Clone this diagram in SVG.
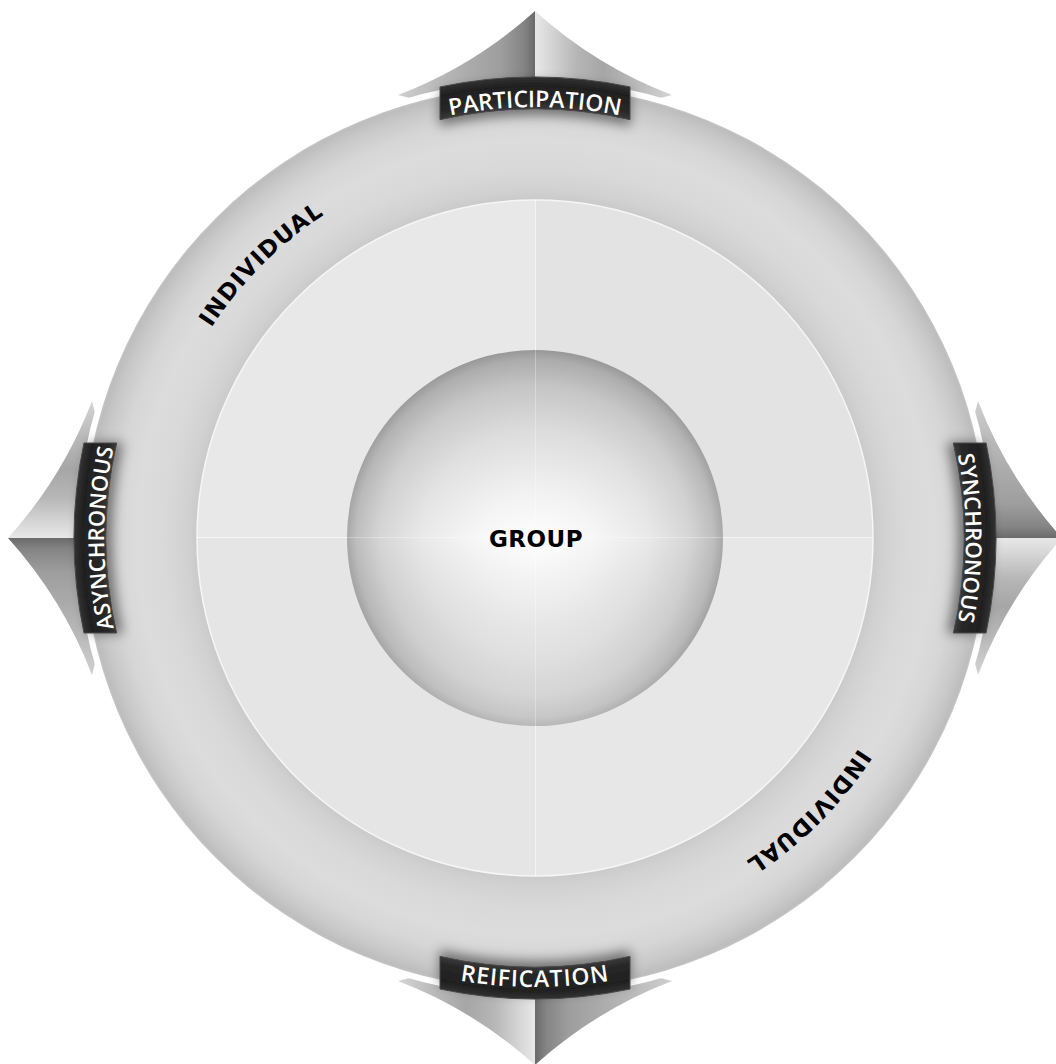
<svg xmlns="http://www.w3.org/2000/svg" width="1056" height="1064" viewBox="0 0 1056 1064">
<defs>
<style>
.lbl { font-family: "Open Sans", "Liberation Sans", Arial, sans-serif; font-weight: 600; fill: #ffffff; }
.ind { font-family: "DejaVu Sans", "Liberation Sans", sans-serif; font-weight: bold; font-size: 23px; letter-spacing: 1px; fill: #000000; }
.banner { fill: url(#bannerGrad); stroke: #484848; stroke-width: 1; filter: url(#shadow); }
.qline { stroke: #ffffff; stroke-width: 1; }
</style>
<linearGradient id="faceL" gradientUnits="userSpaceOnUse" x1="398" y1="0" x2="535" y2="0">
<stop offset="0" stop-color="#cfcfcf"/>
<stop offset="0.3" stop-color="#b9b9b9"/>
<stop offset="0.55" stop-color="#a9a9a9"/>
<stop offset="0.75" stop-color="#9e9e9e"/>
<stop offset="0.92" stop-color="#848484"/>
<stop offset="1" stop-color="#6a6a6a"/>
</linearGradient>
<linearGradient id="faceR" gradientUnits="userSpaceOnUse" x1="535" y1="0" x2="672" y2="0">
<stop offset="0" stop-color="#e8e8e8"/>
<stop offset="0.1" stop-color="#d8d8d8"/>
<stop offset="0.3" stop-color="#b6b6b6"/>
<stop offset="0.5" stop-color="#a6a6a6"/>
<stop offset="0.72" stop-color="#b8b8b8"/>
<stop offset="1" stop-color="#d4d4d4"/>
</linearGradient>
<radialGradient id="ringGrad" gradientUnits="userSpaceOnUse" cx="535" cy="538" r="452">
<stop offset="0" stop-color="#c8c8c8"/>
<stop offset="0.745" stop-color="#c9c9c9"/>
<stop offset="0.77" stop-color="#d1d1d1"/>
<stop offset="0.82" stop-color="#d9d9d9"/>
<stop offset="0.88" stop-color="#dcdcdc"/>
<stop offset="0.93" stop-color="#d6d6d6"/>
<stop offset="0.97" stop-color="#c9c9c9"/>
<stop offset="0.995" stop-color="#bdbdbd"/>
<stop offset="1" stop-color="#c6c6c6"/>
</radialGradient>
<radialGradient id="sphGrad" gradientUnits="userSpaceOnUse" cx="535" cy="538" r="188" fx="535" fy="548">
<stop offset="0" stop-color="#ffffff"/>
<stop offset="0.3" stop-color="#f7f7f7"/>
<stop offset="0.6" stop-color="#e9e9e9"/>
<stop offset="0.82" stop-color="#d6d6d6"/>
<stop offset="0.95" stop-color="#bebebe"/>
<stop offset="1" stop-color="#a8a8a8"/>
</radialGradient>
<linearGradient id="sphOver" x1="0" y1="0" x2="0" y2="1">
<stop offset="0" stop-color="#000000" stop-opacity="0.10"/>
<stop offset="0.5" stop-color="#000000" stop-opacity="0"/>
<stop offset="1" stop-color="#ffffff" stop-opacity="0.18"/>
</linearGradient>
<radialGradient id="bannerGrad" gradientUnits="userSpaceOnUse" cx="535" cy="538" r="459">
<stop offset="0" stop-color="#3a3a3a"/>
<stop offset="0.934" stop-color="#3a3a3a"/>
<stop offset="0.95" stop-color="#282828"/>
<stop offset="0.985" stop-color="#1f1f1f"/>
<stop offset="1" stop-color="#2e2e2e"/>
</radialGradient>
<filter id="shadow" x="-30%" y="-80%" width="160%" height="300%">
<feDropShadow dx="0" dy="6" stdDeviation="6" flood-color="#000000" flood-opacity="0.45"/>
</filter>
<g id="arrow">
<path d="M398 95 Q474 66 535 11 L535 130 Z" fill="url(#faceL)"/>
<path d="M672 95 Q596 66 535 11 L535 130 Z" fill="url(#faceR)"/>
</g>
<path id="banner" d="M440 86.94 A461 461 0 0 1 630 86.94 L630 119.65 A429 429 0 0 0 440 119.65 Z"/>
<path id="tpTop" d="M104 538 A431 431 0 0 1 966 538"/>
<path id="tpRight" d="M535 107 A431 431 0 0 1 535 969"/>
<path id="tpLeft" d="M535 969 A431 431 0 0 1 535 107"/>
<path id="tpBottom" d="M86 538 A449 449 0 0 0 984 538"/>
<path id="tpInd" d="M149 538 A386 386 0 0 1 535 152"/>
</defs>

<rect width="1056" height="1064" fill="#ffffff"/>

<g id="connectors">
<use href="#arrow"/>
<use href="#arrow" transform="rotate(90 535 538)"/>
<use href="#arrow" transform="rotate(180 535 538)"/>
<use href="#arrow" transform="rotate(270 535 538)"/>
</g>

<g id="ring">
<circle cx="535" cy="538" r="458" fill="#ffffff"/>
<circle cx="535" cy="538" r="452" fill="url(#ringGrad)"/>
</g>

<g id="disc">
<path d="M535 538 L197 538 A338 338 0 0 1 535 200 Z" fill="#e8e8e8"/>
<path d="M535 538 L535 200 A338 338 0 0 1 873 538 Z" fill="#e3e3e3"/>
<path d="M535 538 L873 538 A338 338 0 0 1 535 876 Z" fill="#e7e7e7"/>
<path d="M535 538 L535 876 A338 338 0 0 1 197 538 Z" fill="#e5e5e5"/>
<circle cx="535" cy="538" r="338" fill="none" stroke="#f6f6f6" stroke-width="1.5"/>
<line class="qline" x1="197" y1="537.5" x2="873" y2="537.5" stroke-opacity="0.6"/>
<line class="qline" x1="535.5" y1="200" x2="535.5" y2="876" stroke-opacity="0.6"/>
</g>

<g id="group">
<circle cx="535" cy="538" r="188" fill="url(#sphGrad)"/>
<circle cx="535" cy="538" r="188" fill="url(#sphOver)"/>
<line class="qline" x1="347" y1="537.5" x2="723" y2="537.5" stroke-opacity="0.3"/>
<line class="qline" x1="535.5" y1="350" x2="535.5" y2="726" stroke-opacity="0.3"/>
<text x="536" y="547" text-anchor="middle" font-family="DejaVu Sans, Liberation Sans, sans-serif" font-weight="bold" font-size="23" letter-spacing="0.5" fill="#000000">GROUP</text>
</g>

<g id="individual-top">
<text class="ind" text-anchor="middle"><textPath href="#tpInd" startOffset="50%">INDIVIDUAL</textPath></text>
</g>
<g id="individual-bottom" transform="rotate(180 535 538)">
<text class="ind" text-anchor="middle"><textPath href="#tpInd" startOffset="50%">INDIVIDUAL</textPath></text>
</g>

<g id="participation">
<use href="#banner" class="banner"/>
<text class="lbl" font-size="23" text-anchor="middle"><textPath href="#tpTop" startOffset="50%">PARTICIPATION</textPath></text>
</g>
<g id="synchronous">
<use href="#banner" class="banner" transform="rotate(90 535 538)"/>
<text class="lbl" font-size="22" text-anchor="middle"><textPath href="#tpRight" startOffset="50%">SYNCHRONOUS</textPath></text>
</g>
<g id="reification">
<use href="#banner" class="banner" transform="rotate(180 535 538)"/>
<text class="lbl" font-size="23" letter-spacing="1" text-anchor="middle"><textPath href="#tpBottom" startOffset="50%">REIFICATION</textPath></text>
</g>
<g id="asynchronous">
<use href="#banner" class="banner" transform="rotate(270 535 538)"/>
<text class="lbl" font-size="22" text-anchor="middle"><textPath href="#tpLeft" startOffset="50%">ASYNCHRONOUS</textPath></text>
</g>
</svg>
